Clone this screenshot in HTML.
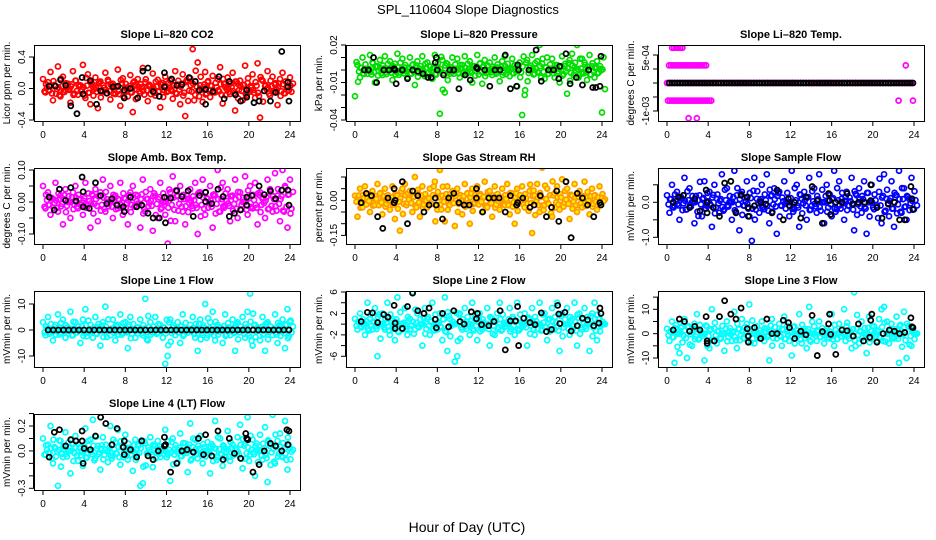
<!DOCTYPE html>
<html><head><meta charset="utf-8"><style>
html,body{margin:0;padding:0;background:#fff;}
svg{display:block;font-family:"Liberation Sans",Arial,sans-serif;}
</style></head><body>
<svg id="chart" width="936" height="540" viewBox="0 0 936 540">
<text x="468" y="14" text-anchor="middle" font-size="13">SPL_110604  Slope Diagnostics</text>
<text x="467" y="532" text-anchor="middle" font-size="14">Hour of Day (UTC)</text>
</svg>
<script>
const hourTicks=[0,4,8,12,16,20,24];
const co2Vals=[0.12,-0.05,0.08,0.21,-0.15,0.03,0.28,-0.1,0.15,-0.02,0.06,-0.18,0.22,0.1,-0.08,0.04,0.3,-0.12,0.18,-0.2,0.02,0.14,-0.25,0.09,-0.04,0.2,0.11,-0.14,0.06,-0.07,0.24,-0.22,0.13,0.01,-0.1,0.17,-0.3,0.05,0.12,-0.06,0.26,0.08,-0.16,0.03,0.19,-0.09,0.11,-0.24,0.07,0.15,-0.03,0.1,-0.13,0.22,0.05,-0.2,0.18,-0.35,0.09,0.13,0.5,-0.08,0.33,0.04,-0.17,0.21,0.08,-0.11,0.16,-0.05,0.12,0.27,-0.19,0.02,0.14,-0.07,0.2,-0.28,0.06,0.1,-0.15,0.29,0.07,-0.04,0.18,-0.12,0.32,-0.37,0.1,0.03,0.22,-0.09,0.15,0.05,-0.21,0.12,0.2,-0.06,0.08,0.14];
const co2BlackHours=[0.6,1.2,1.7,2.2,2.7,3.3,3.8,3.9,4.6,5.2,5.6,6.2,6.8,7.3,7.9,7.9,8.5,9.2,9.7,10.2,10.7,11.3,11.8,11.8,12.5,13,13.5,14.2,14.8,15.2,15.8,15.8,16.5,17.1,17.6,18.1,18.7,19.2,19.8,19.8,20.5,21,21.5,22.1,22.6,23.2,23.8,23.8,23.9];
const co2BlackVals=[0.03,0.03,0.11,0.04,-0.22,-0.32,0.14,-0.07,0.1,-0.2,-0.03,-0.06,0.02,0.03,-0.12,-0.02,0,-0.12,0.22,0.26,-0.04,-0.1,0.2,0.02,0.12,0.04,0.05,0.14,0.09,-0.02,-0.2,-0.01,-0.04,0.15,-0.13,0.09,-0.08,-0.16,-0.02,-0.11,-0.18,-0.16,-0.03,-0.16,-0.05,0.47,0.08,0.02,-0.16];
const presVals=[-0.021,0.004,-0.006,0.01,0.001,-0.003,0.012,0.006,-0.01,0.003,0.008,-0.004,0.011,0,0.007,-0.008,0.005,0.013,-0.002,0.009,0.002,-0.006,0.01,0.004,-0.012,0.007,0.001,0.011,-0.005,0.006,0.003,-0.007,0.012,0.002,-0.035,0.008,-0.018,0.005,-0.003,0.01,0.001,0.009,-0.006,0.004,0.011,-0.002,0.007,-0.01,0.003,0.012,0.005,-0.011,0.008,0,0.006,-0.004,0.01,0.002,-0.009,0.007,0.011,0.001,-0.005,0.009,0.004,-0.013,0.006,-0.036,-0.02,0.008,0.002,0.012,-0.003,0.007,0.02,0.005,-0.007,0.01,0.001,0.009,-0.006,0.004,-0.01,0.011,0.003,-0.019,0.008,0.013,0.002,0.02,-0.004,0.009,0.006,-0.008,0.012,0.003,-0.006,0.007,0.001,-0.034];
const presBlackHours=[0.9,1.3,1.8,2.1,2.8,3.3,3.8,3.9,4.0,4.6,5.1,5.6,6.1,6.6,7.1,7.4,7.8,7.9,8.0,8.6,9.2,9.6,10.1,10.7,11.2,11.8,11.9,12.6,13.1,13.6,14.1,14.6,15.1,15.7,15.8,15.9,16.9,17.6,18.1,18.8,19.3,19.8,19.9,20.5,20.9,21.5,22.1,22.7,23.1,23.4,23.8,23.9];
const presBlackVals=[0,0,0.01,-0.01,0,0,0.001,0,-0.011,0,-0.007,0,-0.001,-0.003,-0.006,-0.006,0.006,0.01,0,-0.004,0,0,-0.015,-0.004,-0.008,0.002,0.001,0,-0.013,0,0,0.012,-0.015,-0.013,0.004,0,0,0.016,-0.009,0,0,-0.007,0.003,0.013,-0.011,-0.006,-0.012,0,-0.014,-0.014,-0.013,0.011];
const tempHours=[0.1,0.3,0.5,0.7,0.9,1.1,1.3,1.5,1.7,1.9,2.1,2.3,2.5,2.7,2.9,3.1,3.3,3.5,3.7,3.9,4.1,4.3,22.5,23.9,0.2,0.4,0.6,0.8,1.0,1.2,1.4,1.6,1.8,2.0,2.2,2.4,2.6,2.8,3.0,3.2,3.4,3.6,3.8,23.2,0.5,0.7,0.9,1.1,1.3,1.5,2.1,2.9];
const tempVals=[-0.00063,-0.00063,-0.00063,-0.00063,-0.00063,-0.00063,-0.00063,-0.00063,-0.00063,-0.00063,-0.00063,-0.00063,-0.00063,-0.00063,-0.00063,-0.00063,-0.00063,-0.00063,-0.00063,-0.00063,-0.00063,-0.00063,-0.00063,-0.00063,0.00063,0.00063,0.00063,0.00063,0.00063,0.00063,0.00063,0.00063,0.00063,0.00063,0.00063,0.00063,0.00063,0.00063,0.00063,0.00063,0.00063,0.00063,0.00063,0.00063,0.00126,0.00126,0.00126,0.00126,0.00126,0.00126,-0.00126,-0.00126];
const tempBlackVals=[0,0,0,0,0,0,0,0,0,0,0,0,0,0,0,0,0,0,0,0,0,0,0,0,0,0,0,0,0,0,0,0,0,0,0,0,0,0,0,0,0,0,0,0,0,0,0,0,0,0,0,0,0,0,0,0,0,0,0,0,0,0,0,0,0,0,0,0,0,0,0,0,0,0,0,0,0,0,0,0,0,0,0,0,0,0,0,0,0,0];
const ambVals=[0.05,-0.02,0.03,-0.04,0.01,0.06,-0.03,0.02,-0.07,0.04,0,-0.05,0.03,0.05,-0.02,0.01,-0.04,0.06,-0.01,-0.08,0.02,0.04,-0.06,0.03,0.07,-0.03,0,0.05,-0.05,0.02,-0.02,0.06,-0.04,0.01,-0.07,0.03,0.05,-0.01,0.02,-0.08,0.07,-0.03,0.01,0.04,-0.09,0.02,-0.05,0.06,0,-0.04,-0.13,0.03,0.08,-0.06,0.02,0.05,-0.03,-0.07,0.01,0.04,-0.02,0.06,-0.1,0.03,0.07,-0.04,0.01,0.05,-0.08,0.02,0.1,-0.03,0.06,-0.01,0.04,-0.06,0.02,0.07,-0.05,0.03,0,0.08,-0.04,0.05,-0.02,0.06,-0.07,0.03,0.01,-0.05,0.07,0.04,-0.03,0.09,0.02,-0.06,0.1,0.05,-0.08,0.07];
const ambBlackHours=[0.6,1.1,1.6,2.2,2.7,3.2,3.8,3.9,3.9,4.5,5.1,5.6,6.2,6.7,7.2,7.8,7.9,8.5,9.1,9.6,10.2,10.7,11.3,11.8,11.9,12.4,13.0,13.5,14.1,14.6,15.2,15.8,15.8,16.4,17.0,17.5,18.1,18.6,19.2,19.8,19.8,20.3,21.0,21.5,22.1,22.6,23.2,23.8,23.9];
const ambBlackVals=[0.015,-0.025,0.04,0.005,0.045,0.003,0.078,0.032,-0.015,-0.02,0.06,0.02,-0.005,0.01,-0.01,-0.015,-0.03,0.015,-0.015,-0.01,-0.035,-0.05,-0.05,0.015,-0.065,0.012,0.035,0.017,0.035,-0.045,0.02,0.03,0.001,-0.005,0.04,0.017,-0.045,-0.035,-0.025,0.015,-0.01,0.02,0.05,0.023,0.035,0.01,0.037,0.037,-0.01];
const rhVals=[0.02,-0.07,0.05,-0.03,0.06,0.01,-0.05,0.04,-0.02,0.07,0.03,-0.06,0.05,0,-0.04,0.06,-0.08,0.02,-0.13,0.05,0.07,-0.01,0.04,-0.05,0.1,0.03,-0.07,0.06,0,-0.03,0.05,-0.2,0.08,-0.04,0.13,0.02,-0.09,0.06,-0.02,0.04,-0.11,0.05,0.01,-0.06,0.07,0.03,-0.1,0.05,-0.01,0.06,0.02,-0.05,0.08,-0.03,0.04,-0.07,0.06,0.01,-0.04,0.05,-0.02,0.07,-0.06,0.03,-0.1,0.05,0,0.06,-0.03,0.15,0.04,-0.14,0.02,0.07,-0.05,0.14,-0.02,0.05,0.18,-0.07,0.03,0.06,-0.04,0.09,-0.01,0.05,-0.08,0.02,0.07,-0.05,0.04,-0.03,0.08,0.01,-0.06,0.05,0.02,-0.04,0.06,0.01];
const rhBlackHours=[0.6,1.1,1.6,2.2,2.7,3.2,3.8,3.8,3.9,4.6,5.1,5.6,6.1,6.7,7.2,7.8,7.9,8.5,9.1,9.6,10.1,10.6,11.1,11.8,11.8,12.4,13,13.5,14,14.6,15.1,15.7,15.8,16.3,17,17.4,18,18.6,19.1,19.6,19.8,20.5,21,21.6,22.1,22.6,23.2,23.8,23.9];
const rhBlackVals=[-0.01,0.03,0.02,-0.07,-0.12,0.01,0.05,-0.01,0,0.08,-0.1,0.04,0.02,-0.05,-0.02,0.01,-0.02,-0.08,0.01,0.03,-0.01,-0.02,-0.02,0.01,0.05,-0.05,0.01,0.01,0.01,-0.05,0.02,-0.02,-0.01,0.01,-0.03,-0.02,0.02,-0.07,-0.03,0.04,-0.09,0.08,-0.16,0.03,0.01,-0.02,-0.07,-0.01,-0.02];
const flowVals=[0.2,-0.3,0.5,-0.1,0.3,-0.5,0.1,0.7,-0.2,0.4,0,-0.6,1.3,0.2,-0.4,0.6,-0.1,0.3,-0.7,0.5,0.1,-0.3,0.8,-0.2,0.4,0,-0.5,0.9,0.2,-0.8,0.3,-0.1,0.6,-0.4,-1.1,0.7,0.1,-0.3,0.5,-0.2,0.8,-0.6,0.2,0.4,-0.9,0.3,-0.1,0.6,0,-0.4,0.9,-0.2,0.5,-0.7,0.1,0.3,-0.5,0.7,-0.1,0.4,-0.3,0.8,0,-0.6,0.5,0.2,-0.4,0.9,-0.2,0.6,0.1,-0.5,0.3,-0.1,0.7,-0.8,0.2,0.4,-0.3,0.6,-0.9,0,0.5,-0.2,1.5,0.3,-0.6,0.8,0.1,-0.4,0.6,-0.7,0.2,0.9,-0.3,0.4,-0.5,0.1,0.7,-0.2];
const flowBlackHours=[0.6,1.1,1.6,2.2,2.7,3.2,3.8,3.9,3.9,4.5,5.1,5.6,6.2,6.7,7.2,7.8,7.9,7.9,8.5,9.1,9.6,10.2,10.7,11.3,11.8,11.9,12.4,13,13.5,14.1,14.6,15.1,15.7,15.8,15.9,16.4,17,17.5,18.1,18.6,19.2,19.8,19.8,20.4,20.9,21.5,22.1,22.6,23.1,23.7,23.8,23.9];
const flowBlackVals=[0,0.15,0.2,-0.15,0.1,-0.25,0.35,0,-0.3,-0.15,-0.4,0.55,0.6,-0.3,0.2,0.15,-0.15,-0.4,-0.1,0,-0.05,-0.3,0.35,-0.5,0.1,-0.1,0,-0.45,0.15,0.45,0.05,-0.6,0.25,0.05,-0.35,0,0,0.25,-0.05,0,0,0.5,0.05,-0.15,-0.45,-0.05,0,-0.5,-0.5,0.45,0.1,-0.2];
const line1Vals=[3,-2,5,0,-4,2,6,-1,4,-3,1,7,-2,3,0,-5,4,8,-1,2,-3,5,1,-6,3,9,0,-2,4,-4,2,6,-1,3,-7,5,0,-3,1,4,-2,12,-4,3,0,5,-1,2,-3,-13,-10,4,1,-2,3,-5,6,0,-1,2,5,-3,-8,4,1,10,-2,3,7,-4,2,0,-5,6,1,-2,4,-8,3,0,5,-3,7,14,-6,2,1,-4,5,-8,3,0,-2,6,-5,2,4,-7,8,3];
const line1BlackVals=[0,0,0,0,0,0,0,0,0,0,0,0,0,0,0,0,0,0,0,0,0,0,0,0,0,0,0,0,0,0,0,0,0,0,0,0,0,0,0,0,0,0,0,0,0,0,0,0];
const line2Vals=[1,-1,2,0,-2,4,1,-1,3,-6,0,2,-1,4,-2,1,-3,5,0,-1,3,-2,1,6,-1,2,0,-4,3,1,-2,4,0,-1,2,-3,5,-5,1,0,-7,-6,2,-1,3,0,-2,4,1,-3,2,-1,0,3,-4,1,-2,2,4,-1,0,-3,3,1,-2,4,-1,0,2,-4,1,3,-2,0,4,-1,2,-3,1,3,-1,4,-5,2,0,3,-2,1,4,-4,2,-1,3,0,-5,2,4,-3,1,0];
const line2BlackHours=[0.6,1.2,1.7,2.2,2.8,3.2,3.8,3.9,3.9,4.6,5.1,5.6,6.1,6.7,7.2,7.8,7.9,8.5,9.1,9.6,10.2,10.6,11.3,11.8,11.9,12.3,13,13.5,14.1,14.6,15.1,15.6,15.8,15.9,16.4,17,17.5,18.1,18.6,19.1,19.7,19.8,19.9,20.4,21,21.6,22.1,22.6,23.2,23.7,23.8,23.9];
const line2BlackVals=[0.5,2.2,2.1,0.3,1.8,1.3,3.5,0.2,-0.8,-0.8,3.3,5.8,2.5,2,3,0.9,-0.7,2,-0.5,2.5,0.5,0,2.3,1,2,-0.1,-0.3,0.5,2.5,-4.8,0.6,0.6,3.3,-4,1.1,0.3,-0.1,2.1,-1.4,-1,3.5,1.9,0.1,2.2,-1.3,-0.3,1.1,0.8,-0.3,0.2,3,2];
const line3Vals=[2,-3,5,-12,0,-8,3,6,-10,1,-5,4,8,-2,0,-11,3,-6,10,2,-4,7,0,-7,5,1,-3,9,-6,2,6,-2,4,12,0,-4,3,-1,5,-3,2,-11,6,0,-2,4,-5,7,1,-3,-9,3,0,8,-4,2,-6,11,0,3,-3,5,1,-4,2,-2,8,-5,0,4,-1,10,3,-2,-6,17,2,-4,5,0,-8,7,1,3,-3,6,10,11,0,-4,4,-2,7,-12,1,9,-10,3,-5,0];
const line3BlackHours=[0.6,1.2,1.7,2.2,2.7,3.2,3.8,3.9,3.9,4.6,5.1,5.6,6.2,6.7,7.2,7.8,7.9,7.9,8.5,9.1,9.7,10.2,10.7,11.3,11.8,11.9,12.4,13,13.5,14.1,14.6,15.1,15.7,15.8,15.9,16.4,17,17.5,18.1,18.6,19.1,19.7,19.8,19.9,20.4,21,21.6,22.1,22.6,23.1,23.7,23.8,23.9];
const line3BlackVals=[1.5,6,5,1,3,1.5,7,-3,-4,-3,7,13.5,8,6,10.5,2,-1,-3.5,2.5,-2,6,0,0,5.5,4.5,2.5,-2,1,-0.5,7.5,-9,0.8,4,8,-0.3,-8.5,1.5,1.2,-1,4,-3,-1.5,5.5,8,-3.5,0,1.5,1,0,0.5,6.5,2.8,2.5];
const line4Vals=[0.1,-0.03,0.05,0.2,-0.1,0.02,-0.28,0.08,-0.05,0.15,0,-0.18,0.06,0.12,-0.08,0.03,-0.12,0.18,-0.02,0.09,0.25,-0.06,0.04,-0.15,0.11,0.01,-0.09,0.2,-0.04,0.07,0.17,-0.11,0.03,0.13,-0.07,0,-0.16,0.09,0.05,-0.28,-0.26,0.06,-0.02,0.11,-0.13,0.04,0.08,-0.05,0,0.17,-0.03,-0.24,0.1,0.02,-0.09,0.14,-0.01,0.06,-0.17,0.22,0.03,0.09,-0.06,0.12,-0.1,0,0.07,-0.18,0.04,0.24,-0.05,0.1,-0.12,0.02,0.16,-0.08,0.05,-0.02,0.11,0.21,-0.14,0.06,0.27,-0.03,0.09,-0.2,0.01,0.13,-0.07,0.19,-0.25,0.04,0.29,-0.1,0.08,0.14,-0.05,0.24,-0.15,0.02];
const line4BlackHours=[0.6,1.1,1.6,2.2,2.7,3.2,3.8,3.8,3.9,4.0,4.6,5.1,5.6,6.1,6.7,7.2,7.8,7.9,7.9,8.5,9.1,9.6,10.2,10.7,11.2,11.8,11.8,11.9,12.4,13,13.5,14,14.6,15.1,15.6,15.8,16.4,17,17.5,18.1,18.6,19.2,19.7,19.8,19.9,20.4,21,21.5,22.1,22.6,23.2,23.7,23.8,23.9];
const line4BlackVals=[-0.05,0.15,0.17,0.04,0.09,0.08,0.16,0.08,-0.1,0.02,0.01,0.12,0.27,0.22,0.05,0.18,0.03,0.08,-0.03,0.01,-0.05,0.08,-0.04,-0.07,0,0.11,0.04,0.05,-0.17,-0.1,0,0.01,-0.01,0.1,-0.03,0.13,-0.04,0.16,-0.07,0.1,-0.02,-0.06,0.14,0.1,0.09,-0.17,-0.11,0,0.06,0.04,0,0.17,0.05,0.16];

const NS='http://www.w3.org/2000/svg';
const svg=document.getElementById('chart');
function mk(tag,attrs,parent){const e=document.createElementNS(NS,tag);for(const k in attrs)e.setAttribute(k,attrs[k]);(parent||svg).appendChild(e);return e;}

const panels=[
 {id:'co2',title:'Slope Li-820 CO2',ylab:'Licor ppm per min.',c:0,r:0,v1:0.4,p1:12,v2:-0.4,p2:75,ticks:[-0.4,-0.2,0,0.2,0.4],labels:[[-0.4,'-0.4'],[0,'0.0'],[0.4,'0.4']],color:'#ff0000',fill:'none',vals:co2Vals,hours:null,bh:co2BlackHours,bv:co2BlackVals},
 {id:'pressure',title:'Slope Li-820 Pressure',ylab:'kPa per min.',c:1,r:0,v1:0.02,p1:0,v2:-0.04,p2:75,ticks:[-0.04,-0.03,-0.02,-0.01,0,0.01,0.02],labels:[[-0.04,'-0.04'],[-0.01,'-0.01'],[0.02,'0.02']],color:'#00dd00',fill:'none',vals:presVals,hours:null,bh:presBlackHours,bv:presBlackVals},
 {id:'temp',title:'Slope Li-820 Temp.',ylab:'degrees C per min.',c:2,r:0,v1:0.001,p1:10,v2:-0.001,p2:66,ticks:[-0.001,-0.0005,0,0.0005,0.001],labels:[[-0.001,'-1e-03'],[0.0009,'5e-04']],color:'#ff00ff',fill:'none',vals:tempVals,hours:tempHours,bh:null,bv:tempBlackVals,bRange:[0.2,23.9]},
 {id:'amb-temp',title:'Slope Amb. Box Temp.',ylab:'degrees C per min.',c:0,r:1,v1:0.1,p1:2,v2:-0.1,p2:66,ticks:[-0.1,-0.05,0,0.05,0.1],labels:[[-0.1,'-0.10'],[0,'0.00'],[0.1,'0.10']],color:'#ff00ff',fill:'none',vals:ambVals,hours:null,bh:ambBlackHours,bv:ambBlackVals},
 {id:'rh',title:'Slope Gas Stream RH',ylab:'percent per min.',c:1,r:1,v1:0.1,p1:9,v2:-0.1,p2:55.7,ticks:[-0.15,-0.1,-0.05,0,0.05,0.1],labels:[[-0.15,'-0.15'],[0,'0.00']],color:'#ff9900',fill:'#ffee00',vals:rhVals,hours:null,bh:rhBlackHours,bv:rhBlackVals},
 {id:'sample-flow',title:'Slope Sample Flow',ylab:'mVmin per min.',c:2,r:1,v1:0,p1:34.3,v2:-1,p2:69.3,ticks:[-1,-0.5,0,0.5],labels:[[-1,'-1.0'],[0,'0.0']],color:'#0000ff',fill:'none',vals:flowVals,hours:null,bh:flowBlackHours,bv:flowBlackVals},
 {id:'line1',title:'Slope Line 1 Flow',ylab:'mVmin per min.',c:0,r:2,v1:10,p1:13,v2:-10,p2:65,ticks:[-10,0,10],labels:[[-10,'-10'],[0,'0'],[10,'10']],color:'#00ffff',fill:'none',vals:line1Vals,hours:null,bh:null,bv:line1BlackVals,bRange:[0.5,23.9]},
 {id:'line2',title:'Slope Line 2 Flow',ylab:'mVmin per min.',c:1,r:2,v1:6,p1:1,v2:-6,p2:65.3,ticks:[-6,-4,-2,0,2,4,6],labels:[[-6,'-6'],[-2,'-2'],[2,'2'],[6,'6']],color:'#00ffff',fill:'none',vals:line2Vals,hours:null,bh:line2BlackHours,bv:line2BlackVals},
 {id:'line3',title:'Slope Line 3 Flow',ylab:'mVmin per min.',c:2,r:2,v1:10,p1:18.3,v2:-10,p2:67,ticks:[-10,-5,0,5,10,15],labels:[[-10,'-10'],[0,'0'],[10,'10']],color:'#00ffff',fill:'none',vals:line3Vals,hours:null,bh:line3BlackHours,bv:line3BlackVals},
 {id:'line4',title:'Slope Line 4 (LT) Flow',ylab:'mVmin per min.',c:0,r:3,v1:0.2,p1:12,v2:-0.3,p2:74.3,ticks:[-0.3,-0.2,-0.1,0,0.1,0.2,0.3],labels:[[-0.3,'-0.3'],[0,'0.0'],[0.2,'0.2']],color:'#00ffff',fill:'none',vals:line4Vals,hours:null,bh:line4BlackHours,bv:line4BlackVals}
];

panels.forEach(p=>{
  const L=34+312*p.c, T=45+123*p.r, W=266, H=76;
  const xs=h=>L+9+h*(247/24);
  const ys=v=>T+p.p1+(v-p.v1)*(p.p2-p.p1)/(p.v2-p.v1);
  const g=mk('g',{});
  
  
  const clip=mk('clipPath',{id:'clip-'+p.id},g);
  mk('rect',{x:L,y:T,width:W,height:H},clip);
  const t=mk('text',{x:L+W/2,y:T-7,'text-anchor':'middle','font-size':11,'font-weight':'bold'},g);
  t.textContent=p.title.replace(/-/g,'\u2013');
  
  
  const yl=mk('text',{x:0,y:0,'text-anchor':'middle','font-size':10,transform:`translate(${L-24},${T+H/2}) rotate(-90)`},g);
  yl.textContent=p.ylab;
  
  
  const xa=mk('g',{stroke:'#000','stroke-width':1},g);
  
  
  mk('line',{x1:xs(hourTicks[0]),x2:xs(hourTicks[hourTicks.length-1]),y1:T+H+0.5,y2:T+H+0.5},xa);
  hourTicks.forEach(h=>{
    mk('line',{x1:xs(h),x2:xs(h),y1:T+H,y2:T+H+5},xa);
    const tl=mk('text',{x:xs(h),y:T+H+17,'text-anchor':'middle','font-size':10,stroke:'none'},xa);
    tl.textContent=h;
    
    
  });
  const ya=mk('g',{stroke:'#000','stroke-width':1},g);
  
  
  const tp=p.ticks.map(ys).filter(y=>y>=T-1.5&&y<=T+H+1.5);
  mk('line',{x1:L-0.5,x2:L-0.5,y1:Math.min(...tp),y2:Math.max(...tp)},ya);
  tp.forEach(y=>mk('line',{x1:L-5,x2:L,y1:y,y2:y},ya));
  p.labels.forEach(([v,s])=>{
    const tl=mk('text',{x:0,y:0,'text-anchor':'middle','font-size':10,stroke:'none',transform:`translate(${L-9},${ys(v)}) rotate(-90)`},ya);
    tl.textContent=s;
    
    
  });
  const pg=mk('g',{'clip-path':`url(#clip-${p.id})`},g);
  const cs=mk('g',{stroke:p.color,fill:p.fill,'stroke-width':1.7},pg);
  
  
  p.vals.forEach((v,i)=>{
    const h=p.hours?p.hours[i]:i*24/(p.vals.length-1);
    if(h===undefined)return;
    const c=mk('circle',{cx:xs(h),cy:ys(v),r:2.5},cs);
    
    
    if(!p.hours){
      const c2=mk('circle',{cx:xs(h)+3,cy:ys(v*0.45),r:2.5},cs);
      
      
      const c3=mk('circle',{cx:xs(h)+1.5,cy:ys(-v*0.3),r:2.5},cs);
      
      
    }
  });
  if(p.id==='temp'){
    for(let i=0;i<96;i++){
      const c=mk('circle',{cx:xs(i*0.25),cy:ys(0),r:2.5},cs);
      
      
    }
  }
  const bs=mk('g',{stroke:'#000',fill:'none','stroke-width':1.8},pg);
  
  
  const n=p.bh?Math.min(p.bh.length,p.bv.length):p.bv.length;
  for(let i=0;i<n;i++){
    const h=p.bh?p.bh[i]:p.bRange[0]+i*(p.bRange[1]-p.bRange[0])/(n-1);
    const c=mk('circle',{cx:xs(h),cy:ys(p.bv[i]),r:2.5},bs);
    
    
  }
  const box=mk('rect',{x:L+0.5,y:T+0.5,width:W,height:H,fill:'none',stroke:'#000','stroke-width':1},g);
  
  
});
</script>
</body></html>
